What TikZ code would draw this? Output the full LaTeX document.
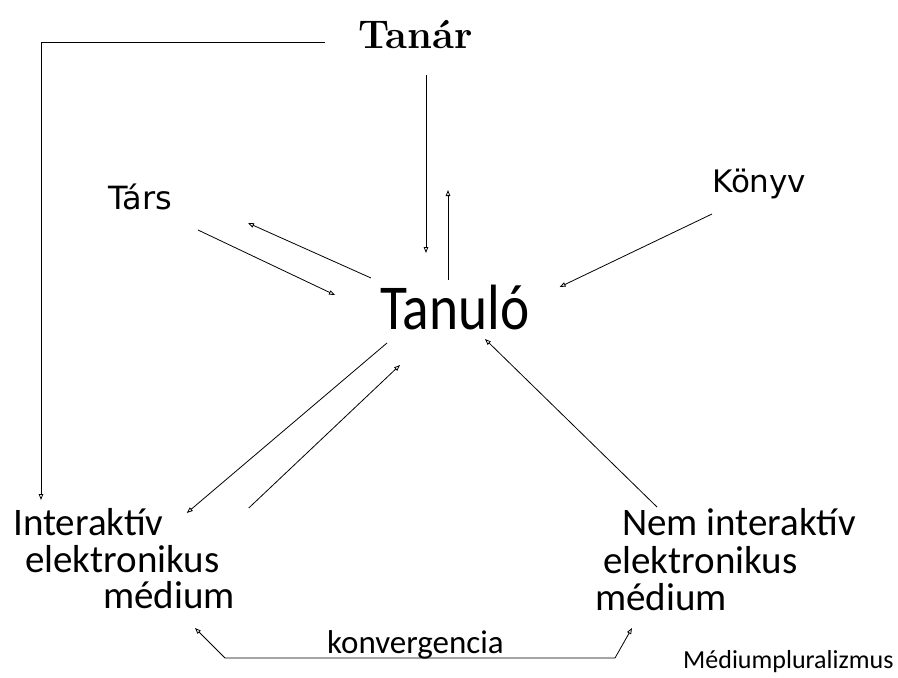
\documentclass[tikz,border=0pt]{standalone}
\usepackage{fontspec}
\newfontfamily\carlito{Carlito}
\newfontfamily\dejavu{DejaVu Sans}
\usetikzlibrary{arrows.meta}

\begin{document}
\begin{tikzpicture}[x=1pt,y=-1pt,
  txt/.style={inner sep=0pt,anchor=base west},
  medium/.style={txt,font=\carlito\fontsize{39}{39}\selectfont},
  arr/.style={line width=0.8pt,-{Triangle[open,length=6pt,width=4.5pt]}}]
  \useasboundingbox (0,0) rectangle (898,678);
  \node[txt,font=\bfseries\fontsize{40}{40}\selectfont] (tanar) at (358,48) {Tanár};
  \node[txt,font=\dejavu\fontsize{32}{32}\selectfont] (tars) at (108,209) {Társ};
  \node[txt,font=\dejavu\fontsize{31}{31}\selectfont] (konyv) at (712,192) {Könyv};
  \node[txt,font=\carlito\fontsize{64}{64}\selectfont] (tanulo) at (380,329) {\scalebox{0.865}[1]{Tanuló}};
  \node[medium] (interA) at (13,535) {Interaktív};
  \node[medium] (interB) at (25,572) {elektronikus};
  \node[medium] (interC) at (103,608) {médium};
  \node[medium] (nemA) at (622,535) {Nem interaktív};
  \node[medium] (nemB) at (603,573) {elektronikus};
  \node[medium] (nemC) at (595,610) {médium};
  \node[txt,font=\carlito\fontsize{33}{33}\selectfont] (konv) at (327,653) {konvergencia};
  \node[txt,font=\carlito\fontsize{26}{26}\selectfont] (plural) at (683,668) {Médiumpluralizmus};

  \draw[arr] ([shift={(-33pt,6pt)}]tanar.base west) -| ([shift={(28pt,35pt)}]interA.base west);
  \draw[arr] ([shift={(68pt,-27pt)}]tanar.base west) -- ([shift={(46pt,76pt)}]tanulo.base west);
  \draw[arr] ([shift={(68pt,49pt)}]tanulo.base west) -- ([shift={(90pt,-142pt)}]tanar.base west);
  \draw[arr] ([shift={(90pt,-21pt)}]tars.base west) -- ([shift={(-45pt,34pt)}]tanulo.base west);
  \draw[arr] ([shift={(-9pt,51pt)}]tanulo.base west) -- ([shift={(140pt,-14pt)}]tars.base west);
  \draw[arr] ([shift={(0pt,-22pt)}]konyv.base west) -- ([shift={(30pt,42pt)}]tanulo.base east);
  \draw[arr] ([shift={(7pt,-14pt)}]tanulo.base west) -- ([shift={(23pt,22pt)}]interA.base east);
  \draw[arr] ([shift={(85pt,27pt)}]interA.base east) -- ([shift={(20pt,-36pt)}]tanulo.base west);
  \draw[arr] ([shift={(35pt,28pt)}]nemA.base west) -- ([shift={(105pt,-10pt)}]tanulo.base west);
  \draw[arr,{Triangle[open,length=6pt,width=4.5pt]}-{Triangle[open,length=6pt,width=4.5pt]}]
    ([shift={(92pt,-20pt)}]interC.base west) -- ++(30pt,-30pt) -- ++(390pt,0pt)
    -- ([shift={(37pt,-18pt)}]nemC.base west);
\end{tikzpicture}
\end{document}
